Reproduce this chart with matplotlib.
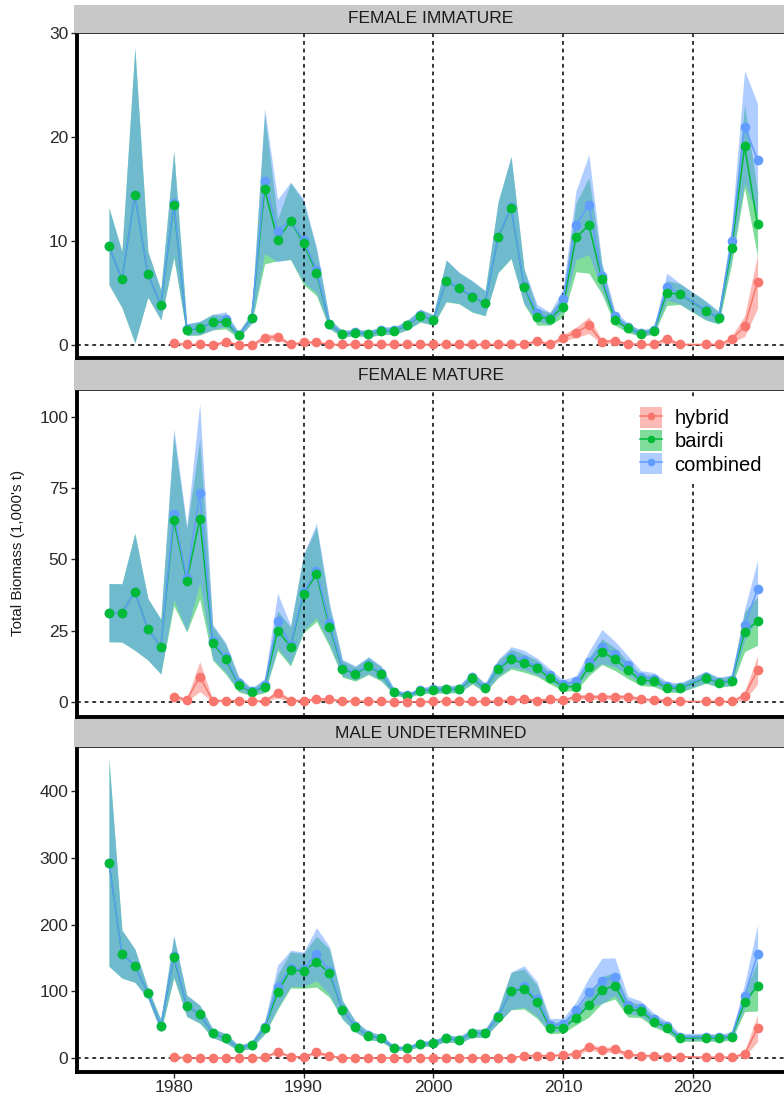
import matplotlib
matplotlib.use("Agg")
import matplotlib.pyplot as plt
from matplotlib.patches import Patch
from matplotlib.lines import Line2D
import numpy as np

plt.rcParams['font.family'] = ['Liberation Sans', 'DejaVu Sans']

# ---------------- data ----------------
YEARS = [1975, 1976, 1977, 1978, 1979, 1980, 1981, 1982, 1983, 1984,
         1985, 1986, 1987, 1988, 1989, 1990, 1991, 1992, 1993, 1994,
         1995, 1996, 1997, 1998, 1999, 2000, 2001, 2002, 2003, 2004,
         2005, 2006, 2007, 2008, 2009, 2010, 2011, 2012, 2013, 2014,
         2015, 2016, 2017, 2018, 2019, 2021, 2022, 2023, 2024, 2025]
YEARS_HYB = YEARS[5:]

PANEL_TITLES = ["FEMALE IMMATURE", "FEMALE MATURE", "MALE UNDETERMINED"]
SERIES = ["hybrid", "bairdi", "combined"]
COLORS = {"hybrid": "#F8766D", "bairdi": "#00BA38", "combined": "#619CFF"}

# --- FEMALE IMMATURE ---
fi_bairdi = [9.5, 6.3, 14.4, 6.8, 3.85, 13.5, 1.45, 1.6, 2.2, 2.2,
             0.95, 2.6, 15.0, 10.1, 11.9, 9.8, 6.95, 2.0, 1.05, 1.2,
             1.05, 1.35, 1.35, 1.9, 2.8, 2.4, 6.15, 5.45, 4.65, 4.0,
             10.35, 13.2, 5.6, 2.7, 2.5, 3.7, 10.35, 11.5, 6.3, 2.4,
             1.6, 1.1, 1.35, 5.0, 4.9, 3.3, 2.6, 9.3, 19.1, 11.6]
fi_bairdi_err = [3.7, 2.7, 14.2, 2.2, 1.45, 5.1, 0.55, 0.65, 0.75, 0.65,
                 0.3, 0.5, 7.2, 2.0, 3.7, 4.0, 2.2, 0.45, 0.3, 0.3,
                 0.3, 0.35, 0.35, 0.45, 0.6, 0.5, 2.0, 1.5, 1.5, 1.2,
                 3.4, 4.9, 1.7, 0.8, 0.6, 1.0, 3.3, 4.6, 1.4, 0.5,
                 0.4, 0.3, 0.3, 1.2, 1.0, 0.9, 0.6, 1.5, 4.0, 3.1]
fi_hybrid = [0.15, 0.05, 0.05, 0.0, 0.3, 0.0, 0.0, 0.7, 0.8, 0.05,
             0.25, 0.25, 0.05, 0.05, 0.05, 0.05, 0.05, 0.05, 0.05, 0.05,
             0.05, 0.05, 0.05, 0.05, 0.05, 0.05, 0.05, 0.05, 0.4, 0.05,
             0.7, 1.2, 1.9, 0.3, 0.4, 0.1, 0.05, 0.05, 0.6, 0.05,
             0.05, 0.05, 0.55, 1.8, 6.1]
fi_hybrid_err = [0.1, 0.1, 0.1, 0.1, 0.2, 0.1, 0.1, 0.3, 0.3, 0.1,
                 0.15, 0.15, 0.1, 0.1, 0.1, 0.1, 0.1, 0.1, 0.1, 0.1,
                 0.1, 0.1, 0.1, 0.1, 0.1, 0.1, 0.1, 0.1, 0.2, 0.1,
                 0.3, 0.5, 0.8, 0.2, 0.2, 0.1, 0.1, 0.1, 0.3, 0.1,
                 0.1, 0.1, 0.3, 1.0, 2.6]
fi_combined = [9.5, 6.3, 14.4, 6.8, 3.85, 13.65, 1.5, 1.65, 2.2, 2.5,
               0.95, 2.6, 15.8, 11.0, 11.95, 10.05, 7.2, 2.05, 1.1, 1.25,
               1.1, 1.4, 1.4, 1.95, 2.85, 2.45, 6.2, 5.5, 4.7, 4.05,
               10.4, 13.25, 5.65, 3.1, 2.55, 4.4, 11.5, 13.5, 6.6, 2.8,
               1.7, 1.15, 1.4, 5.6, 4.95, 3.35, 2.65, 10.0, 21.0, 17.8]
fi_combined_err = [3.7, 2.7, 14.2, 2.2, 1.45, 5.1, 0.55, 0.65, 0.75, 0.7,
                   0.3, 0.5, 7.0, 3.0, 3.7, 4.0, 2.2, 0.45, 0.3, 0.3,
                   0.3, 0.35, 0.35, 0.45, 0.6, 0.5, 2.0, 1.5, 1.5, 1.2,
                   3.4, 4.9, 1.7, 0.8, 0.6, 1.0, 3.3, 4.8, 1.3, 0.5,
                   0.4, 0.3, 0.3, 1.3, 1.0, 0.9, 0.6, 1.5, 5.4, 5.4]

# --- FEMALE MATURE ---
fm_bairdi = [31.4, 31.3, 38.7, 25.6, 19.5, 63.8, 42.6, 64.1, 20.7, 15.1,
             6.1, 3.5, 5.5, 25.1, 19.5, 37.9, 44.8, 26.5, 11.7, 9.9,
             12.7, 9.9, 3.5, 2.3, 4.0, 4.3, 4.5, 4.5, 8.4, 4.9,
             11.6, 15.1, 13.7, 11.9, 8.4, 5.5, 5.5, 12.5, 17.7, 15.1,
             11.3, 7.8, 7.5, 5.1, 4.9, 8.6, 6.9, 7.5, 24.7, 28.5]
fm_bairdi_err = [10.2, 10.2, 20.5, 10.8, 9.6, 30.0, 18.0, 28.0, 6.0, 5.2,
                 2.5, 1.2, 2.2, 7.0, 6.8, 13.5, 16.5, 7.0, 2.9, 2.5,
                 3.0, 2.5, 1.0, 0.8, 1.0, 1.2, 1.2, 1.2, 2.0, 1.5,
                 3.0, 3.5, 3.2, 2.8, 2.0, 1.5, 1.5, 3.2, 4.5, 4.0,
                 3.0, 2.0, 2.0, 1.5, 1.5, 2.0, 1.6, 1.8, 7.0, 8.5]
fm_hybrid = [2.0, 0.8, 9.0, 0.6, 0.6, 0.5, 0.3, 0.5, 3.1, 0.6,
             0.6, 1.1, 1.1, 0.4, 0.4, 0.3, 0.3, 0.2, 0.2, 0.2,
             0.3, 0.3, 0.3, 0.3, 0.3, 0.4, 0.8, 1.1, 0.6, 1.1,
             0.8, 1.9, 1.9, 1.9, 1.9, 1.9, 1.1, 0.8, 0.6, 0.3,
             0.3, 0.3, 0.3, 2.3, 11.3]
fm_hybrid_err = [1.0, 0.5, 5.3, 0.4, 0.4, 0.3, 0.2, 0.3, 1.5, 0.4,
                 0.4, 0.6, 0.6, 0.3, 0.3, 0.2, 0.2, 0.2, 0.2, 0.2,
                 0.2, 0.2, 0.2, 0.2, 0.2, 0.3, 0.5, 0.6, 0.4, 0.6,
                 0.5, 0.8, 0.8, 0.8, 0.8, 0.8, 0.6, 0.5, 0.4, 0.2,
                 0.2, 0.2, 0.2, 1.5, 5.0]
fm_combined = [31.4, 31.3, 38.7, 25.6, 19.5, 65.9, 43.4, 73.2, 21.3, 15.7,
               6.6, 3.8, 6.0, 28.6, 20.1, 38.5, 46.1, 27.6, 12.1, 10.3,
               13.0, 10.2, 3.7, 2.5, 4.2, 4.6, 4.8, 4.8, 8.7, 5.2,
               12.0, 15.9, 14.8, 12.5, 9.5, 6.3, 7.4, 14.2, 19.5, 16.9,
               13.0, 8.9, 8.3, 5.7, 5.2, 8.9, 7.2, 7.8, 27.1, 39.6]
fm_combined_err = [10.2, 10.2, 20.5, 10.8, 9.6, 30.0, 18.5, 31.5, 6.0, 5.2,
                   2.5, 1.2, 2.3, 9.6, 6.8, 13.5, 16.5, 7.2, 2.9, 2.5,
                   3.0, 2.5, 1.0, 0.8, 1.0, 1.2, 1.2, 1.2, 2.0, 1.5,
                   3.0, 3.6, 3.4, 3.0, 2.2, 1.6, 1.8, 3.6, 6.0, 4.5,
                   3.3, 2.2, 2.1, 1.6, 1.5, 2.0, 1.6, 1.8, 5.5, 10.2]

# --- MALE UNDETERMINED ---
mu_bairdi = [292.8, 156.0, 138.6, 97.3, 48.8, 151.0, 78.3, 65.9, 37.4, 29.9,
             15.0, 19.9, 44.9, 98.8, 132.2, 130.7, 144.6, 127.2, 72.3, 47.3,
             33.8, 29.9, 15.0, 15.0, 21.4, 22.4, 29.9, 27.4, 37.4, 37.4,
             62.3, 100.7, 103.7, 84.7, 45.8, 45.8, 59.9, 79.8, 102.2, 108.7,
             73.8, 70.8, 54.8, 45.8, 29.9, 30.9, 29.9, 32.4, 83.8, 108.7]
mu_bairdi_err = [155.0, 36.0, 25.0, 8.0, 9.0, 31.0, 16.0, 13.5, 6.5, 7.0,
                 4.0, 5.0, 9.0, 26.0, 27.0, 26.0, 38.0, 36.0, 14.0, 8.0,
                 6.0, 5.0, 3.0, 3.0, 4.0, 4.0, 5.0, 5.0, 6.0, 6.0,
                 10.0, 28.0, 30.0, 25.0, 9.0, 8.0, 10.0, 18.0, 20.0, 20.0,
                 12.0, 10.0, 8.0, 7.0, 5.0, 5.0, 5.0, 5.0, 14.0, 38.0]
mu_hybrid = [2.4, 0.5, 0.5, 0.5, 0.5, 0.5, 0.5, 1.5, 10.0, 2.4,
             2.4, 8.7, 3.9, 0.5, 0.5, 0.5, 0.5, 0.5, 0.5, 0.5,
             0.5, 0.5, 0.5, 0.5, 0.5, 0.5, 0.5, 3.9, 3.9, 3.9,
             4.9, 6.5, 17.4, 12.4, 13.4, 5.9, 3.9, 3.9, 2.4, 2.4,
             1.5, 1.5, 1.5, 6.5, 44.9]
mu_hybrid_err = [1.5, 0.5, 0.5, 0.5, 0.5, 0.5, 0.5, 1.0, 3.0, 1.5,
                 1.5, 3.0, 2.0, 0.5, 0.5, 0.5, 0.5, 0.5, 0.5, 0.5,
                 0.5, 0.5, 0.5, 0.5, 0.5, 0.5, 0.5, 2.0, 2.0, 2.0,
                 2.0, 3.0, 4.5, 4.0, 4.0, 2.5, 2.0, 2.0, 1.5, 1.5,
                 1.0, 1.0, 1.0, 4.0, 20.0]
mu_combined = [292.8, 156.0, 138.6, 97.3, 48.8, 153.4, 78.8, 66.4, 37.9, 30.4,
               15.5, 20.4, 46.4, 107.2, 134.6, 133.1, 156.0, 131.1, 72.8, 47.8,
               34.3, 30.4, 15.5, 15.5, 21.9, 22.9, 30.4, 27.9, 37.9, 37.9,
               62.8, 101.2, 107.6, 88.6, 49.7, 50.7, 72.3, 98.8, 115.7, 122.2,
               79.7, 74.7, 58.7, 48.2, 32.3, 32.4, 31.4, 33.9, 93.3, 156.0]
mu_combined_err = [155.0, 36.0, 25.0, 8.0, 9.0, 31.0, 16.0, 13.5, 6.5, 7.0,
                   4.0, 5.0, 9.0, 32.0, 27.0, 26.0, 39.5, 36.0, 14.0, 8.0,
                   6.0, 5.0, 3.0, 3.0, 4.0, 4.0, 5.0, 5.0, 6.0, 6.0,
                   10.0, 28.0, 31.0, 26.0, 10.0, 9.0, 12.0, 22.0, 34.0, 28.0,
                   13.0, 11.0, 9.0, 7.5, 5.0, 5.0, 5.0, 5.0, 18.0, 43.5]

PANEL_DATA = [
    {"hybrid": (fi_hybrid, fi_hybrid_err), "bairdi": (fi_bairdi, fi_bairdi_err),
     "combined": (fi_combined, fi_combined_err)},
    {"hybrid": (fm_hybrid, fm_hybrid_err), "bairdi": (fm_bairdi, fm_bairdi_err),
     "combined": (fm_combined, fm_combined_err)},
    {"hybrid": (mu_hybrid, mu_hybrid_err), "bairdi": (mu_bairdi, mu_bairdi_err),
     "combined": (mu_combined, mu_combined_err)},
]
YLIMS = [(-1.28, 30.0), (-5.15, 109.35), (-20.5, 465.8)]
YTICKS = [[0, 10, 20, 30], [0, 25, 50, 75, 100], [0, 100, 200, 300, 400]]
XTICKS = [1980, 1990, 2000, 2010, 2020]
VLINES = [1990, 2000, 2010, 2020]

# ---------------- layout ----------------
W, H = 784, 1099
fig = plt.figure(figsize=(W / 100, H / 100), dpi=100)

ax_left_px, ax_right_px = 76.5, 790.0
# (bottom, top, strip_top) in pixels from top
PANEL_PX = [(358.3, 33.0, 4.5), (717.0, 390.0, 360.0), (1072.0, 747.0, 719.0)]

TICK_COLOR = "#2a2a2a"
ALPHA = 0.5

for i, (b, t, st) in enumerate(PANEL_PX):
    ax = fig.add_axes([ax_left_px / W, 1 - b / H,
                       (ax_right_px - ax_left_px) / W, (b - t) / H])
    data = PANEL_DATA[i]
    # ribbons
    for s in SERIES:
        vals, err = data[s]
        x = YEARS_HYB if s == "hybrid" else YEARS
        v = np.array(vals)
        e = np.array(err)
        ax.fill_between(x, v - e, v + e, color=COLORS[s], alpha=ALPHA,
                        linewidth=0, zorder=1)
    # reference lines
    ax.axhline(0, color="black", linestyle=(0, (2.5, 2.5)), linewidth=1.1, zorder=2)
    for vx in VLINES:
        ax.axvline(vx, color="black", linestyle=(0, (2.5, 2.5)), linewidth=1.1, zorder=2)
    # lines
    for s in SERIES:
        vals, _ = data[s]
        x = YEARS_HYB if s == "hybrid" else YEARS
        ax.plot(x, vals, color=COLORS[s], linewidth=1.1, zorder=3)
    # points
    for s in ["combined", "bairdi", "hybrid"]:
        vals, _ = data[s]
        x = YEARS_HYB if s == "hybrid" else YEARS
        ax.plot(x, vals, linestyle="none", marker="o", markersize=7,
                markeredgewidth=0, color=COLORS[s], zorder=4)

    ax.set_xlim(1972.5, 2027.5)
    ax.set_ylim(*YLIMS[i])
    ax.set_yticks(YTICKS[i])
    ax.tick_params(axis="y", length=4, width=1, color=TICK_COLOR,
                   labelsize=12.5, labelcolor=TICK_COLOR, pad=2)
    if i == 2:
        ax.set_xticks(XTICKS)
        ax.tick_params(axis="x", length=4, width=1, color=TICK_COLOR,
                       labelsize=12.5, labelcolor=TICK_COLOR, pad=2)
    else:
        ax.set_xticks([])
    ax.spines["right"].set_visible(False)
    ax.spines["left"].set_linewidth(2.8)
    ax.spines["bottom"].set_linewidth(2.8)
    ax.spines["top"].set_linewidth(1.3)
    ax.spines["top"].set_color("#222222")
    ax.set_facecolor("white")

    # strip
    sax = fig.add_axes([74 / W, 1 - t / H, 1.0, (t - st) / H])
    sax.set_facecolor("#C8C8C8")
    sax.set_xticks([])
    sax.set_yticks([])
    for sp in sax.spines.values():
        sp.set_visible(False)
    fig.text(431 / W, 1 - (t + st) / 2 / H, PANEL_TITLES[i],
             ha="center", va="center", fontsize=12.5, color="#1a1a1a")

    if i == 1:
        handles = []
        for s in SERIES:
            handles.append((Patch(facecolor=COLORS[s], alpha=ALPHA, edgecolor="none"),
                            Line2D([], [], color=COLORS[s], linewidth=1.1,
                                   marker="o", markersize=5.5, markeredgewidth=0)))
        leg = ax.legend(handles, SERIES, loc="upper left",
                        bbox_to_anchor=(0.777, 0.975), fontsize=14.5,
                        frameon=True, facecolor="white", edgecolor="none",
                        framealpha=1.0, fancybox=False, borderpad=0.44,
                        handlelength=1.12, handleheight=1.25, labelspacing=0.08,
                        handletextpad=0.6, borderaxespad=0)
        leg.set_zorder(10)

fig.text(18 / W, 1 - 553 / H, "Total Biomass (1,000's t)", rotation=90,
         ha="center", va="center", fontsize=11, color="#1a1a1a")

fig.savefig("out.png", dpi=100)
